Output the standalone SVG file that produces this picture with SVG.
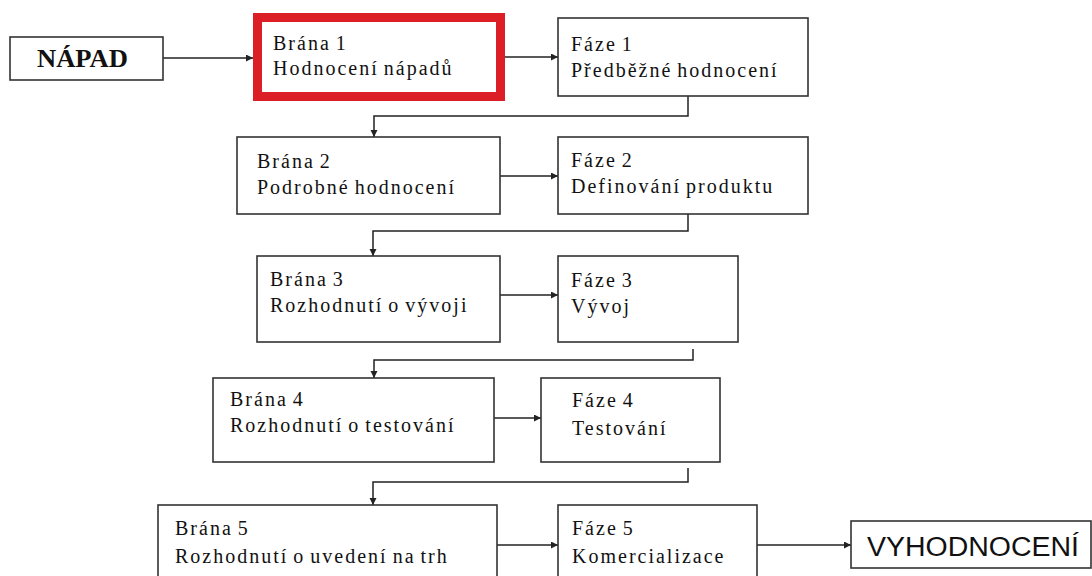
<svg xmlns="http://www.w3.org/2000/svg" width="1092" height="576" viewBox="0 0 1092 576">
  <defs>
    <marker id="arrow" markerUnits="userSpaceOnUse" markerWidth="8" markerHeight="8" refX="7" refY="3.5" orient="auto">
      <path d="M0,0 L7,3.5 L0,7 z" fill="#222"/>
    </marker>
    <style>
      .box { fill: #fff; stroke: #333; stroke-width: 1.6; }
      .gate1 { fill: #fff; stroke: #dc1f26; stroke-width: 9; }
      .lbl { font-family: "Liberation Serif", "Times New Roman", serif; font-size: 20px; letter-spacing: 2px; word-spacing: -2px; fill: #111; }
      .big { font-family: "Liberation Serif", "Times New Roman", serif; font-size: 25px; font-weight: bold; fill: #111; }
      .end { font-family: "Liberation Sans", Arial, sans-serif; font-size: 27px; fill: #111; }
      .conn { fill: none; stroke: #222; stroke-width: 1.5; }
    </style>
  </defs>
  <rect width="1092" height="576" fill="#fff"/>

  <!-- connectors -->
  <g id="connectors">
    <line class="conn" x1="163" y1="58" x2="253" y2="58" marker-end="url(#arrow)"/>
    <line class="conn" x1="505" y1="57" x2="558" y2="57" marker-end="url(#arrow)"/>
    <path class="conn" d="M688,96 V116 H374 V137" marker-end="url(#arrow)"/>
    <line class="conn" x1="500" y1="176" x2="558" y2="176" marker-end="url(#arrow)"/>
    <path class="conn" d="M688,214 V231 H373 V256" marker-end="url(#arrow)"/>
    <line class="conn" x1="500" y1="295" x2="558" y2="295" marker-end="url(#arrow)"/>
    <path class="conn" d="M693,349 V360 H374 V378" marker-end="url(#arrow)"/>
    <line class="conn" x1="494" y1="418" x2="541" y2="418" marker-end="url(#arrow)"/>
    <path class="conn" d="M688,468 V482 H373 V505" marker-end="url(#arrow)"/>
    <line class="conn" x1="497" y1="545" x2="558" y2="545" marker-end="url(#arrow)"/>
    <line class="conn" x1="757" y1="545" x2="851" y2="545" marker-end="url(#arrow)"/>
  </g>

  <!-- start -->
  <g id="napad">
    <rect class="box" x="10" y="37" width="153" height="43"/>
    <text class="big" x="37" y="67" textLength="91" lengthAdjust="spacingAndGlyphs">NÁPAD</text>
  </g>

  <!-- gate 1, highlighted -->
  <g id="brana1">
    <rect class="gate1" x="257.5" y="17.5" width="243" height="79"/>
    <text class="lbl" x="273" y="50">Brána 1</text>
    <text class="lbl" x="273" y="75">Hodnocení nápadů</text>
  </g>

  <g id="faze1">
    <rect class="box" x="558" y="18" width="250" height="78"/>
    <text class="lbl" x="571" y="51">Fáze 1</text>
    <text class="lbl" x="571" y="77">Předběžné hodnocení</text>
  </g>

  <g id="brana2">
    <rect class="box" x="237" y="137" width="263" height="77"/>
    <text class="lbl" x="257" y="168">Brána 2</text>
    <text class="lbl" x="257" y="194">Podrobné hodnocení</text>
  </g>

  <g id="faze2">
    <rect class="box" x="558" y="137" width="250" height="77"/>
    <text class="lbl" x="571" y="167">Fáze 2</text>
    <text class="lbl" x="571" y="193">Definování produktu</text>
  </g>

  <g id="brana3">
    <rect class="box" x="257" y="256" width="243" height="86"/>
    <text class="lbl" x="270" y="286">Brána 3</text>
    <text class="lbl" x="270" y="312">Rozhodnutí o vývoji</text>
  </g>

  <g id="faze3">
    <rect class="box" x="558" y="256" width="180" height="86"/>
    <text class="lbl" x="571" y="287">Fáze 3</text>
    <text class="lbl" x="571" y="313">Vývoj</text>
  </g>

  <g id="brana4">
    <rect class="box" x="213" y="378" width="281" height="84"/>
    <text class="lbl" x="230" y="406">Brána 4</text>
    <text class="lbl" x="230" y="432">Rozhodnutí o testování</text>
  </g>

  <g id="faze4">
    <rect class="box" x="541" y="378" width="179" height="84"/>
    <text class="lbl" x="572" y="407">Fáze 4</text>
    <text class="lbl" x="572" y="435">Testování</text>
  </g>

  <g id="brana5">
    <rect class="box" x="158" y="505" width="339" height="90"/>
    <text class="lbl" x="175" y="535">Brána 5</text>
    <text class="lbl" x="175" y="563">Rozhodnutí o uvedení na trh</text>
  </g>

  <g id="faze5">
    <rect class="box" x="558" y="505" width="199" height="90"/>
    <text class="lbl" x="572" y="535">Fáze 5</text>
    <text class="lbl" x="572" y="563">Komercializace</text>
  </g>

  <!-- end -->
  <g id="vyhodnoceni">
    <rect class="box" x="851" y="521" width="240" height="47"/>
    <text class="end" x="867" y="556" textLength="212" lengthAdjust="spacingAndGlyphs">VYHODNOCENÍ</text>
  </g>
</svg>
